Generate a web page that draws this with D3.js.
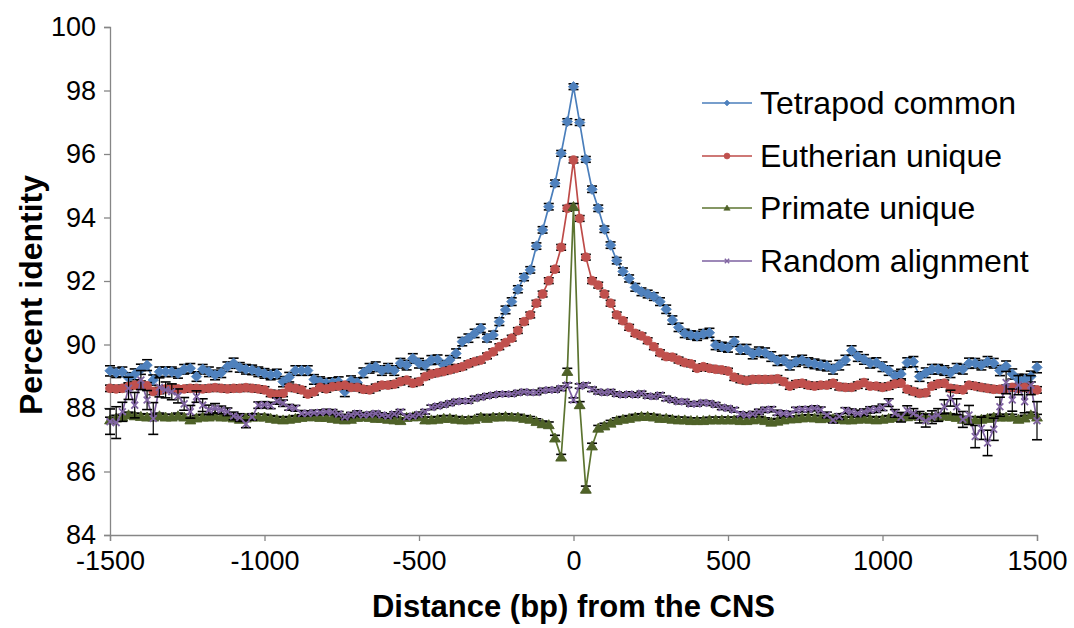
<!DOCTYPE html>
<html><head><meta charset="utf-8">
<script src="https://cdn.jsdelivr.net/npm/d3@7/dist/d3.min.js"></script>
<style>
html,body{margin:0;padding:0;background:#fff;}
svg{display:block;}
text{font-family:"Liberation Sans",Arial,sans-serif;fill:#000;}
</style></head>
<body>
<svg id="chart" width="1074" height="628"></svg>
<script>
// ---- categories (distance from CNS, bp) ----
const distance = [
-1500,-1480,-1460,-1440,-1420,-1400,-1380,-1360,-1340,-1320,-1300,-1280,-1260,-1240,-1220,-1200,-1180,-1160,-1140,-1120,-1100,-1080,-1060,-1040,-1020,-1000,
-980,-960,-940,-920,-900,-880,-860,-840,-820,-800,-780,-760,-740,-720,-700,-680,-660,-640,-620,-600,-580,-560,-540,-520,-500,
-480,-460,-440,-420,-400,-380,-360,-340,-320,-300,-280,-260,-240,-220,-200,-180,-160,-140,-120,-100,-80,-60,-40,-20,0,
20,40,60,80,100,120,140,160,180,200,220,240,260,280,300,320,340,360,380,400,420,440,460,480,500,
520,540,560,580,600,620,640,660,680,700,720,740,760,780,800,820,840,860,880,900,920,940,960,980,1000,
1020,1040,1060,1080,1100,1120,1140,1160,1180,1200,1220,1240,1260,1280,1300,1320,1340,1360,1380,1400,1420,1440,1460,1480,1500];

// ---- series values (percent identity) ----
const tetrapodCommon = [
89.17,89.11,89.14,88.95,89.06,89.22,89.35,88.88,89.14,89.14,89.14,89.09,89.22,89.25,88.99,89.22,89.14,89.04,89.11,89.30,89.41,89.28,89.22,89.20,89.14,89.09,
89.04,89.07,88.83,88.97,89.18,89.18,89.18,88.90,88.83,88.78,88.80,88.83,88.52,88.86,88.80,89.11,89.25,89.30,89.18,89.25,89.18,89.41,89.35,89.56,89.41,
89.35,89.51,89.53,89.35,89.51,89.72,90.09,90.20,90.35,90.51,90.20,90.30,90.72,91.09,91.35,91.74,92.12,92.35,93.10,93.61,94.34,95.08,96.02,97.02,98.12,
96.99,95.83,94.89,94.29,93.63,93.13,92.64,92.30,92.08,91.80,91.66,91.59,91.51,91.35,91.11,90.77,90.54,90.35,90.30,90.27,90.33,90.37,89.98,89.93,89.90,
90.09,89.85,89.85,89.70,89.77,89.74,89.62,89.49,89.51,89.35,89.46,89.51,89.43,89.39,89.35,89.32,89.22,89.35,89.51,89.81,89.62,89.53,89.41,89.43,89.30,
89.18,89.01,89.07,89.43,89.46,88.99,89.11,89.22,89.22,89.18,89.11,89.25,89.22,89.41,89.41,89.35,89.46,89.41,89.18,89.32,89.07,88.90,88.90,88.99,89.28];

const eutherianUnique = [
88.62,88.60,88.62,88.68,88.72,88.75,88.70,88.52,88.55,88.60,88.62,88.60,88.60,88.62,88.62,88.60,88.62,88.64,88.62,88.60,88.62,88.62,88.64,88.62,88.60,88.57,
88.46,88.43,88.46,88.65,88.62,88.57,88.44,88.51,88.65,88.60,88.67,88.69,88.72,88.65,88.65,88.59,88.57,88.65,88.72,88.72,88.75,88.83,88.88,88.78,88.83,
88.99,89.07,89.11,89.15,89.20,89.25,89.30,89.39,89.46,89.51,89.64,89.77,89.93,90.06,90.20,90.44,90.72,90.93,91.30,91.59,92.01,92.37,93.06,94.29,95.81,
93.97,92.75,92.01,91.87,91.59,91.30,90.93,90.75,90.54,90.35,90.27,90.12,89.93,89.74,89.62,89.60,89.51,89.43,89.39,89.25,89.30,89.25,89.22,89.20,89.16,
88.97,88.90,88.86,88.90,88.90,88.90,88.90,88.92,88.83,88.69,88.76,88.78,88.72,88.69,88.72,88.72,88.78,88.67,88.65,88.65,88.72,88.80,88.69,88.69,88.65,
88.69,88.76,88.78,88.59,88.52,88.46,88.48,88.69,88.76,88.78,88.62,88.59,88.57,88.72,88.69,88.65,88.62,88.59,88.59,88.62,88.65,88.62,88.65,88.59,88.57];

const primateUnique = [
87.62,87.68,87.71,87.78,87.75,87.73,87.71,87.71,87.75,87.71,87.71,87.75,87.71,87.62,87.68,87.71,87.71,87.75,87.71,87.71,87.68,87.64,87.68,87.71,87.71,87.71,
87.67,87.64,87.62,87.64,87.67,87.70,87.72,87.72,87.70,87.70,87.67,87.64,87.62,87.64,87.70,87.72,87.70,87.67,87.67,87.64,87.62,87.60,87.70,87.72,87.72,
87.62,87.62,87.64,87.67,87.67,87.64,87.62,87.62,87.64,87.71,87.67,87.71,87.71,87.73,87.71,87.71,87.67,87.64,87.57,87.50,87.47,87.05,86.45,89.15,94.34,
88.10,85.44,86.80,87.36,87.43,87.52,87.60,87.64,87.67,87.71,87.73,87.73,87.71,87.67,87.67,87.64,87.62,87.62,87.60,87.60,87.60,87.62,87.62,87.62,87.62,
87.62,87.60,87.60,87.62,87.64,87.60,87.55,87.58,87.62,87.65,87.66,87.68,87.70,87.68,87.66,87.68,87.66,87.64,87.62,87.62,87.64,87.66,87.64,87.62,87.64,
87.67,87.70,87.71,87.72,87.75,87.73,87.71,87.71,87.71,87.75,87.73,87.70,87.64,87.64,87.62,87.64,87.67,87.71,87.71,87.71,87.71,87.64,87.68,87.78,87.71];

const randomAlignment = [
87.57,87.54,87.88,88.62,88.09,88.88,88.25,87.67,88.65,88.57,88.51,88.38,88.13,87.88,88.36,88.09,87.94,87.99,87.94,87.88,87.75,87.70,87.50,87.72,88.09,88.10,
88.08,88.22,88.15,88.02,87.99,87.83,87.83,87.85,87.86,87.88,87.87,87.81,87.72,87.78,87.83,87.78,87.80,87.83,87.78,87.75,87.81,87.88,87.72,87.75,87.80,
87.88,88.02,88.06,88.10,88.15,88.20,88.22,88.22,88.30,88.34,88.38,88.41,88.44,88.44,88.44,88.48,88.51,88.49,88.49,88.55,88.57,88.57,88.62,88.72,88.25,
88.69,88.72,88.59,88.51,88.48,88.51,88.44,88.41,88.44,88.41,88.46,88.38,88.36,88.41,88.30,88.25,88.20,88.20,88.13,88.13,88.17,88.15,88.10,88.02,87.99,
87.94,87.81,87.78,87.81,87.88,87.94,87.96,87.85,87.83,87.81,87.94,87.96,87.96,87.99,87.94,87.78,87.62,87.73,87.92,87.88,87.83,87.87,87.94,87.96,88.02,
88.17,87.83,87.71,87.92,87.83,87.71,87.60,87.71,87.78,88.04,88.31,88.04,87.64,87.78,87.10,87.36,86.90,87.33,88.04,88.80,88.25,88.72,88.20,88.72,87.60];

// ---- error bar half-widths ----
const tetrapodErr = [
0.16,0.15,0.15,0.16,0.17,0.16,0.17,0.16,0.15,0.15,0.15,0.15,0.15,0.15,0.15,0.15,0.15,0.15,0.15,0.15,0.16,0.15,0.15,0.15,0.15,0.15,
0.15,0.15,0.16,0.15,0.15,0.15,0.15,0.15,0.15,0.15,0.15,0.15,0.16,0.15,0.15,0.15,0.15,0.15,0.15,0.15,0.15,0.15,0.15,0.15,0.15,
0.14,0.14,0.14,0.14,0.14,0.14,0.13,0.13,0.13,0.13,0.12,0.12,0.12,0.12,0.12,0.11,0.11,0.10,0.10,0.10,0.10,0.10,0.09,0.09,0.09,
0.09,0.09,0.10,0.10,0.10,0.10,0.10,0.11,0.11,0.12,0.12,0.12,0.12,0.12,0.13,0.13,0.13,0.13,0.13,0.14,0.14,0.14,0.14,0.14,0.14,
0.15,0.15,0.15,0.15,0.15,0.15,0.15,0.15,0.15,0.15,0.15,0.15,0.15,0.15,0.15,0.15,0.15,0.15,0.15,0.15,0.15,0.15,0.15,0.15,0.15,
0.15,0.15,0.15,0.15,0.16,0.15,0.15,0.15,0.15,0.15,0.15,0.15,0.15,0.16,0.15,0.15,0.16,0.15,0.16,0.16,0.16,0.16,0.16,0.17,0.17];

const eutherianErr = [
0.10,0.10,0.10,0.10,0.10,0.10,0.10,0.10,0.10,0.10,0.10,0.10,0.10,0.10,0.10,0.10,0.10,0.10,0.10,0.10,0.10,0.10,0.10,0.10,0.10,0.10,
0.10,0.10,0.10,0.10,0.10,0.10,0.10,0.10,0.10,0.10,0.10,0.10,0.10,0.10,0.10,0.10,0.10,0.10,0.10,0.10,0.10,0.10,0.10,0.10,0.10,
0.09,0.09,0.09,0.09,0.09,0.09,0.09,0.09,0.09,0.09,0.09,0.09,0.09,0.09,0.09,0.09,0.09,0.09,0.09,0.09,0.09,0.09,0.09,0.09,0.09,
0.09,0.09,0.09,0.09,0.09,0.09,0.09,0.09,0.09,0.09,0.09,0.09,0.09,0.09,0.09,0.09,0.09,0.09,0.09,0.09,0.09,0.09,0.09,0.09,0.09,
0.10,0.10,0.10,0.10,0.10,0.10,0.10,0.10,0.10,0.10,0.10,0.10,0.10,0.10,0.10,0.10,0.10,0.10,0.10,0.10,0.10,0.10,0.10,0.10,0.10,
0.10,0.10,0.10,0.10,0.10,0.10,0.10,0.10,0.10,0.10,0.10,0.10,0.10,0.10,0.10,0.10,0.10,0.10,0.10,0.10,0.10,0.10,0.10,0.10,0.10];

const primateErr = [
0.09,0.09,0.09,0.09,0.09,0.09,0.09,0.09,0.09,0.09,0.09,0.09,0.09,0.09,0.09,0.09,0.09,0.09,0.09,0.09,0.09,0.09,0.09,0.09,0.09,0.09,
0.09,0.09,0.09,0.09,0.09,0.09,0.09,0.09,0.09,0.09,0.09,0.09,0.09,0.09,0.09,0.09,0.09,0.09,0.09,0.09,0.09,0.09,0.09,0.09,0.09,
0.09,0.09,0.09,0.09,0.09,0.09,0.09,0.09,0.09,0.09,0.09,0.09,0.09,0.09,0.09,0.09,0.09,0.09,0.09,0.09,0.09,0.09,0.09,0.10,0.10,
0.10,0.10,0.09,0.09,0.09,0.09,0.09,0.09,0.09,0.09,0.09,0.09,0.09,0.09,0.09,0.09,0.09,0.09,0.09,0.09,0.09,0.09,0.09,0.09,0.09,
0.09,0.09,0.09,0.09,0.09,0.09,0.09,0.09,0.09,0.09,0.09,0.09,0.09,0.09,0.09,0.09,0.09,0.09,0.09,0.09,0.09,0.09,0.09,0.09,0.09,
0.09,0.09,0.09,0.09,0.09,0.09,0.09,0.09,0.09,0.09,0.09,0.09,0.09,0.09,0.09,0.09,0.09,0.09,0.09,0.09,0.09,0.09,0.09,0.09,0.09];

const randomErr = [
0.40,0.50,0.30,0.35,0.40,0.30,0.30,0.50,0.30,0.25,0.25,0.22,0.20,0.20,0.18,0.20,0.15,0.15,0.12,0.12,0.12,0.12,0.12,0.10,0.10,0.10,
0.10,0.10,0.10,0.09,0.09,0.09,0.08,0.08,0.08,0.08,0.08,0.08,0.08,0.08,0.08,0.07,0.07,0.07,0.07,0.07,0.07,0.07,0.07,0.07,0.07,
0.07,0.07,0.07,0.07,0.07,0.07,0.07,0.07,0.07,0.07,0.07,0.07,0.07,0.07,0.07,0.07,0.07,0.07,0.07,0.07,0.07,0.07,0.07,0.07,0.07,
0.07,0.07,0.07,0.07,0.07,0.07,0.07,0.07,0.07,0.07,0.07,0.07,0.07,0.07,0.07,0.07,0.07,0.07,0.07,0.07,0.07,0.07,0.07,0.07,0.07,
0.07,0.07,0.07,0.08,0.08,0.08,0.08,0.08,0.08,0.08,0.08,0.08,0.08,0.08,0.09,0.09,0.09,0.09,0.09,0.09,0.10,0.10,0.10,0.10,0.10,
0.12,0.12,0.15,0.15,0.15,0.18,0.20,0.20,0.20,0.22,0.25,0.25,0.25,0.30,0.35,0.35,0.40,0.35,0.30,0.35,0.35,0.30,0.35,0.30,0.60];

const seriesNames = ["Tetrapod common","Eutherian unique","Primate unique","Random alignment"];
const xTicks = [-1500,-1000,-500,0,500,1000,1500];
const yTicks = [84,86,88,90,92,94,96,98,100];

// ---- build series table ----
const seriesTable = [
  {name:seriesNames[0], values:tetrapodCommon, err:tetrapodErr, color:"#4F81BD", lineColor:"#4A7EBB", marker:"diamond"},
  {name:seriesNames[1], values:eutherianUnique, err:eutherianErr, color:"#C0504D", lineColor:"#BE4B48", marker:"circle"},
  {name:seriesNames[2], values:primateUnique, err:primateErr, color:"#4F6228", lineColor:"#5C7430", marker:"triangle"},
  {name:seriesNames[3], values:randomAlignment, err:randomErr, color:"#8064A2", lineColor:"#7D60A0", marker:"cross"}
];

const svg = d3.select("#chart");
const plot = {left:110, right:1037, top:27, bottom:535};

const x = d3.scaleLinear().domain([-1500,1500]).range([plot.left, plot.right]);
const y = d3.scaleLinear().domain([84,100]).range([plot.bottom, plot.top]);

function markerPath(type, s){
  if(type==="diamond") return `M0,${-s}L${s},0L0,${s}L${-s},0Z`;
  if(type==="circle") return d3.symbol(d3.symbolCircle, Math.PI*s*s)();
  if(type==="triangle") return `M0,${-s}L${s*1.05},${s*0.75}L${-s*1.05},${s*0.75}Z`;
  return `M${-s},${-s}L${s},${s}M${-s},${s}L${s},${-s}`;
}
const markerSize = {diamond:5.2, circle:4.4, triangle:5.2, cross:3.4};

// axes
const yAxis = d3.axisLeft(y).tickValues(yTicks).tickSize(6).tickPadding(8).tickFormat(d3.format("d"));
const xAxis = d3.axisBottom(x).tickValues(xTicks).tickSize(6).tickPadding(10).tickFormat(d3.format("d"));

const gy = svg.append("g").attr("transform",`translate(${plot.left},0)`).call(yAxis);
const gx = svg.append("g").attr("transform",`translate(0,${plot.bottom})`).call(xAxis);
[gx,gy].forEach(g=>{
  g.select(".domain").attr("stroke","#868686").attr("stroke-width",1.3);
  g.selectAll(".tick line").attr("stroke","#868686").attr("stroke-width",1.3);
  g.selectAll(".tick text").attr("font-family","'Liberation Sans',Arial,sans-serif").attr("font-size",27).attr("fill","#000");
});
gx.selectAll(".tick text").text(d=>d<0? "-"+Math.abs(d) : d);

// series
const line = d3.line().x((d,i)=>x(distance[i])).y(d=>y(d));
const gSeries = svg.append("g");
seriesTable.forEach(s=>{
  const g = gSeries.append("g");
  g.append("path").datum(s.values).attr("d",line).attr("fill","none")
    .attr("stroke",s.lineColor).attr("stroke-width",1.7);
  // error bars
  const eb = g.append("g").attr("stroke","#000").attr("stroke-width",1.6);
  s.values.forEach((v,i)=>{
    const cx = x(distance[i]), y1 = y(v + s.err[i]), y2 = y(v - s.err[i]);
    eb.append("line").attr("x1",cx).attr("x2",cx).attr("y1",y1).attr("y2",y2).attr("stroke-width",1.2);
    eb.append("line").attr("x1",cx-5).attr("x2",cx+5).attr("y1",y1).attr("y2",y1);
    eb.append("line").attr("x1",cx-5).attr("x2",cx+5).attr("y1",y2).attr("y2",y2);
  });
  const sz = markerSize[s.marker];
  g.selectAll("path.mk").data(s.values).join("path").attr("class","mk")
    .attr("transform",(d,i)=>`translate(${x(distance[i])},${y(d)})`)
    .attr("d",markerPath(s.marker,sz))
    .attr("fill",s.marker==="cross"?"none":s.color)
    .attr("stroke",s.color).attr("stroke-width",s.marker==="cross"?1.8:0.8);
});

// axis titles
svg.append("text").attr("x",(plot.left+plot.right)/2).attr("y",617).attr("text-anchor","middle")
  .attr("font-size",31).attr("font-weight","bold").text("Distance (bp) from the CNS");
svg.append("text").attr("transform","translate(42,295) rotate(-90)").attr("text-anchor","middle")
  .attr("font-size",32).attr("font-weight","bold").text("Percent identity");

// legend
const leg = svg.append("g");
const legRows = [103,156,208,261];
seriesTable.forEach((s,i)=>{
  const gy0 = legRows[i];
  leg.append("line").attr("x1",702).attr("x2",752).attr("y1",gy0).attr("y2",gy0)
    .attr("stroke",s.lineColor).attr("stroke-width",1.6);
  leg.append("path").attr("transform",`translate(727,${gy0})`).attr("d",markerPath(s.marker,s.marker==="cross"?2.2:3))
    .attr("fill",s.marker==="cross"?"none":s.color).attr("stroke",s.color).attr("stroke-width",s.marker==="cross"?1.4:0.6);
  leg.append("text").attr("x",760).attr("y",gy0+11).attr("font-size",32).text(s.name);
});
</script>
</body></html>
